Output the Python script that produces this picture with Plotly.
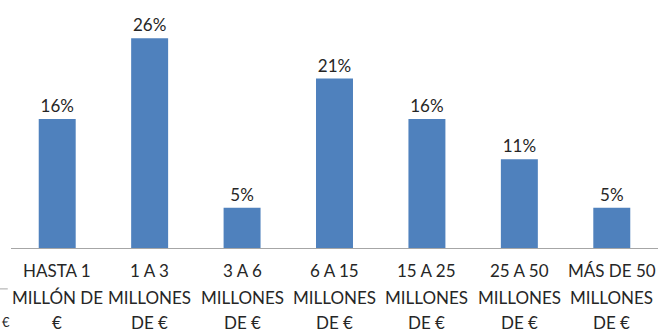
import plotly.graph_objects as go

categories = [
    ["HASTA 1", "MILLÓN DE", "€"],
    ["1 A 3", "MILLONES", "DE €"],
    ["3 A 6", "MILLONES", "DE €"],
    ["6 A 15", "MILLONES", "DE €"],
    ["15 A 25", "MILLONES", "DE €"],
    ["25 A 50", "MILLONES", "DE €"],
    ["MÁS DE 50", "MILLONES", "DE €"],
]
values = [16, 26, 5, 21, 16, 11, 5]
value_labels = [f"{v}%" for v in values]

FONT = "Lato"
TEXT_COLOR = "#262626"
positions = list(range(len(categories)))

fig = go.Figure(
    go.Bar(
        x=positions,
        y=values,
        text=value_labels,
        textposition="outside",
        textfont=dict(family=FONT, size=17, color=TEXT_COLOR),
        cliponaxis=False,
        marker=dict(color="#4F81BD", line=dict(width=0)),
    )
)

fig.update_layout(
    width=658,
    height=332,
    margin=dict(l=11, r=0, t=6, b=84),
    paper_bgcolor="white",
    plot_bgcolor="white",
    bargap=0.6,
    showlegend=False,
    xaxis=dict(
        range=[-0.5, len(categories) - 0.5],
        showline=True,
        linecolor="#A6A6A6",
        linewidth=1,
        ticks="",
        showticklabels=False,
        showgrid=False,
    ),
    yaxis=dict(
        range=[0, 30],
        visible=False,
        showgrid=False,
    ),
)

# three-line category labels under each bar
line_y = [-0.095, -0.2025, -0.306]
for pos, lines in zip(positions, categories):
    for ly, txt in zip(line_y, lines):
        fig.add_annotation(
            text=txt, x=pos, xref="x", y=ly, yref="paper",
            yanchor="middle", showarrow=False,
            font=dict(family=FONT, size=17, color=TEXT_COLOR),
        )

# partial label fragment at the left edge
fig.add_shape(
    type="line", xref="paper", yref="paper",
    x0=-0.02, x1=-0.005, y0=-0.169, y1=-0.169,
    line=dict(color="#A6A6A6", width=1),
)
fig.add_annotation(
    text="€", xref="paper", yref="paper",
    x=-0.017, xanchor="left", y=-0.306, yanchor="middle", showarrow=False,
    font=dict(family=FONT, size=13, color=TEXT_COLOR),
)

fig.write_html("out.html")
